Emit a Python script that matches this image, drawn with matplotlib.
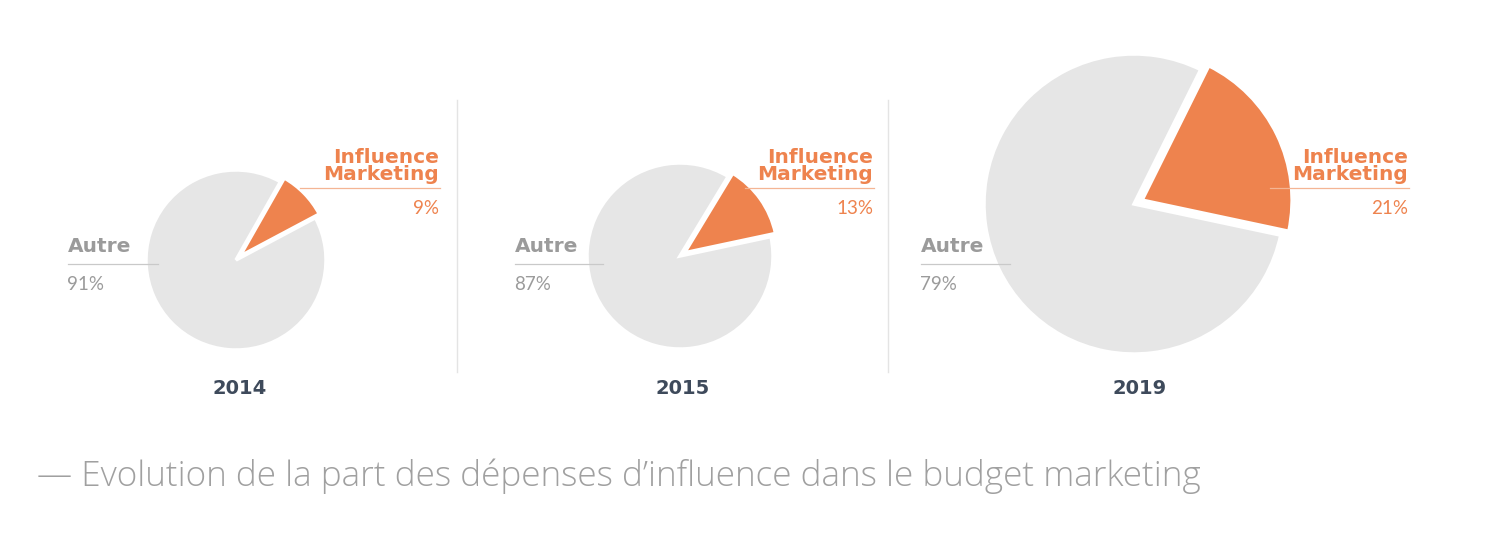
import matplotlib
matplotlib.use("Agg")
import matplotlib.pyplot as plt
from matplotlib.lines import Line2D

# ---- data ----
years = ["2014", "2015", "2019"]
influence_pct = [9, 13, 21]
autre_pct = [91, 87, 79]
label_influence = "Influence\nMarketing"
label_autre = "Autre"
caption = "\u2014 Evolution de la part des dépenses d\u2019influence dans le budget marketing"

# ---- style / layout ----
W, H = 1486, 538
ORANGE = "#EE834E"
GREY = "#E6E6E6"
LABEL_GREY = "#9B9B9B"
YEAR_COL = "#3E4A5B"
SEP_COL = "#E4E4E4"

centers = [(236, 260), (680, 256), (1134, 204)]
radii = [90, 93, 150]
start_angles = [28, 12, -12]
infl_right = [439, 873, 1408]
infl_line_left = [300, 745, 1270]
autre_left = [68, 515, 921]
autre_line_right = [158, 603, 1010]
year_x = [240, 683, 1140]

fig = plt.figure(figsize=(W / 100, H / 100), dpi=100)
fig.patch.set_facecolor("white")

def fx(x):
    return x / W

def fy(y):
    return 1 - y / H

lim = 1.25
for i, yr in enumerate(years):
    cx, cy = centers[i]
    r = radii[i]
    half = r * lim
    ax = fig.add_axes([fx(cx - half), fy(cy + half), 2 * half / W, 2 * half / H])
    ax.pie([influence_pct[i], autre_pct[i]], colors=[ORANGE, GREY],
           startangle=start_angles[i], counterclock=True,
           explode=[0.06, 0], radius=1.0,
           wedgeprops=dict(linewidth=2.5, edgecolor="white"))
    ax.set_xlim(-lim, lim)
    ax.set_ylim(-lim, lim)
    ax.set_aspect("equal")
    ax.axis("off")

# overlay axes in pixel coords for labels and lines
ov = fig.add_axes([0, 0, 1, 1], zorder=5)
ov.set_xlim(0, W)
ov.set_ylim(H, 0)
ov.axis("off")
ov.patch.set_alpha(0)

LBL_FONT = ["DejaVu Sans"]
for i, yr in enumerate(years):
    # influence label
    ov.text(infl_right[i], 184, label_influence, ha="right", va="bottom",
            fontsize=14.5, fontweight="bold", color=ORANGE, family=LBL_FONT,
            linespacing=0.88)
    ov.add_line(Line2D([infl_line_left[i], infl_right[i] + 1], [188, 188],
                       color="#F4B594", lw=0.9))
    ov.text(infl_right[i], 209, f"{influence_pct[i]}%", ha="right", va="center",
            fontsize=13.5, color=ORANGE, family="Lato")
    # autre label
    ov.text(autre_left[i], 256, label_autre, ha="left", va="bottom",
            fontsize=14.5, fontweight="bold", color=LABEL_GREY, family=LBL_FONT)
    ov.add_line(Line2D([autre_left[i], autre_line_right[i]], [264, 264],
                       color="#C9C9C9", lw=0.9))
    ov.text(autre_left[i] - 1, 284, f"{autre_pct[i]}%", ha="left", va="center",
            fontsize=13.5, color=LABEL_GREY, family="Lato")
    # year
    ov.text(year_x[i], 389, yr, ha="center", va="center", fontsize=14,
            fontweight="bold", color=YEAR_COL, family=LBL_FONT)

# separators
for sx in [457, 888]:
    ov.add_line(Line2D([sx, sx], [100, 372], color=SEP_COL, lw=1))

ov.text(37, 476, caption, ha="left", va="center", fontsize=25.3,
        color="#A0A0A0", family="Open Sans", fontweight="light")

fig.savefig("out.png", dpi=100, facecolor="white")
